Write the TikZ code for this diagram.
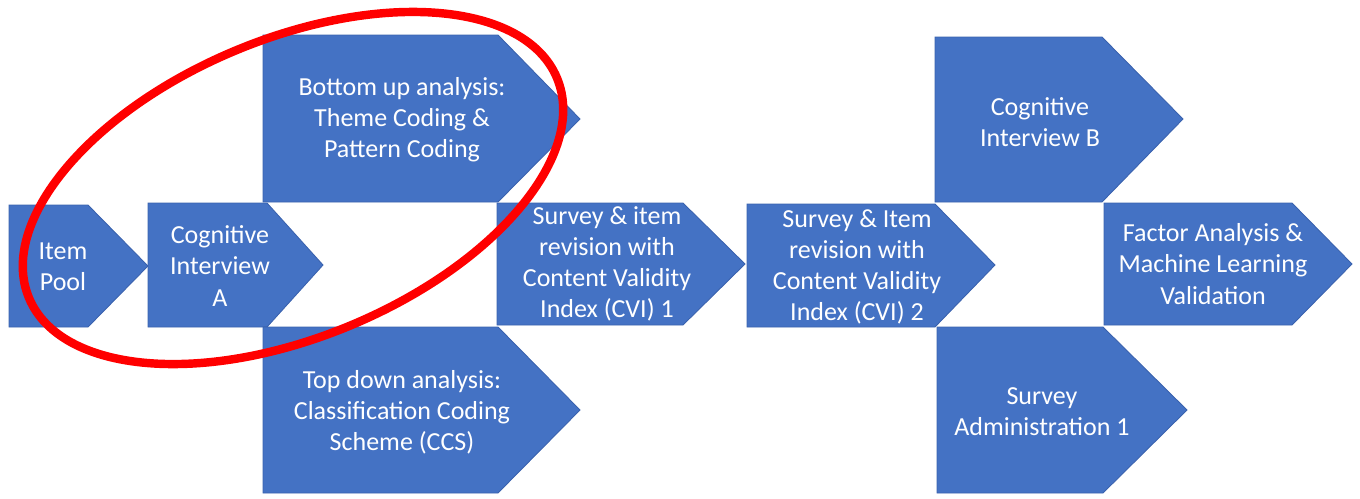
\documentclass[tikz,border=0pt]{standalone}
\usepackage{fontspec}
\setmainfont{Carlito}
\definecolor{officeblue}{HTML}{4472C4}
\definecolor{officeedge}{HTML}{3A62AE}
\tikzset{
  stage/.style={fill=officeblue, draw=officeedge, line width=0.5pt},
  lbl/.style={text=white, align=center, inner sep=0pt, font=\fontsize{14.8}{17.7}\selectfont},
}
\begin{document}
\begin{tikzpicture}[x=0.02cm, y=-0.02cm]
  \useasboundingbox (0,0) rectangle (1360,498);
  % stages, left to right
  \draw[stage] (9,205) -- (88,205) -- (148,266) -- (88,327) -- (9,327) -- cycle;
  \draw[stage] (148,203) -- (267,203) -- (323,265) -- (267,327) -- (148,327) -- cycle;
  \draw[stage] (263,35) -- (498,35) -- (580,119) -- (498,202) -- (263,202) -- cycle;
  \draw[stage] (263,327) -- (498,327) -- (580,410) -- (498,493) -- (263,493) -- cycle;
  \draw[stage] (497,203) -- (683,203) -- (745,264) -- (683,325) -- (497,325) -- cycle;
  \draw[stage] (747,204) -- (935,204) -- (995,265) -- (935,327) -- (747,327) -- cycle;
  \draw[stage] (935,37) -- (1102,37) -- (1183,119) -- (1102,202) -- (935,202) -- cycle;
  \draw[stage] (937,327) -- (1103,327) -- (1187,410) -- (1103,493) -- (937,493) -- cycle;
  \draw[stage] (1104,203) -- (1292,203) -- (1352,264) -- (1292,325) -- (1104,325) -- cycle;
  % labels
  \node[lbl] (pool) at (63,267) {Item\\Pool};
  \node[lbl] (cogA) at (220,266) {Cognitive\\Interview\\A};
  \node[lbl] (bottomup) at (402,120) {Bottom up analysis:\\Theme Coding \&\\Pattern Coding};
  \node[lbl] (topdown) at (402,412) {Top down analysis:\\Classification Coding\\Scheme (CCS)};
  \node[lbl] (cvi1) at (607,264) {Survey \& item\\revision with\\Content Validity\\Index (CVI) 1};
  \node[lbl] (cvi2) at (857,267) {Survey \& Item\\revision with\\Content Validity\\Index (CVI) 2};
  \node[lbl] (cogB) at (1040,122) {Cognitive\\Interview B};
  \node[lbl] (admin) at (1042,412) {Survey\\Administration 1};
  \node[lbl] (factor) at (1213,264) {Factor Analysis \&\\Machine Learning\\Validation};
  % highlight
  \draw[red, line width=4.8pt, rotate around={22.6:(293,188)}] (293,188) ellipse [x radius=286, y radius=149];
\end{tikzpicture}
\end{document}
